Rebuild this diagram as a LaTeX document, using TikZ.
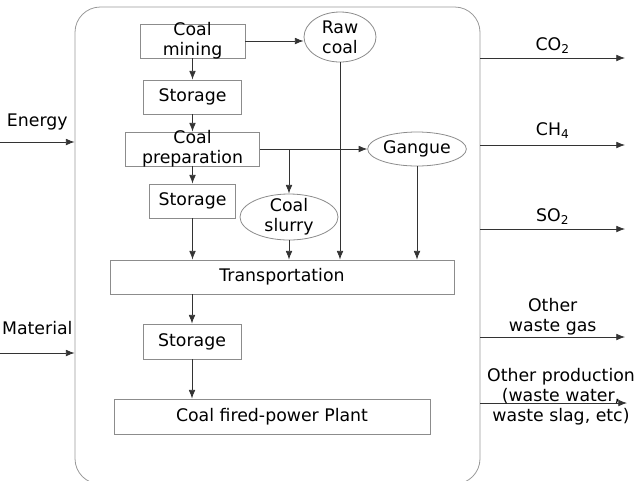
\documentclass[tikz,border=0pt]{standalone}
\usepackage{fontspec}
\setmainfont{DejaVu Sans}
\usetikzlibrary{arrows.meta,positioning,shapes.geometric}

\begin{document}
\begin{tikzpicture}[
    x=0.75pt, y=-0.75pt,
    node distance=39pt,
    >={Latex[length=6.5pt,width=5pt]},
    font=\fontsize{13}{15}\selectfont,
    stage/.style={
		rectangle,
		draw=black!45,
		line width=0.6pt,
		align=center,
		inner sep=0pt,
		minimum height=25.5pt,
		fill=white
	},
	product/.style={
		ellipse,
		draw=black!45,
		line width=0.6pt,
		align=center,
		inner sep=0pt,
		fill=white
	},
	frame/.style={
		rectangle,
		rounded corners=19pt,
		draw=black!40,
		line width=0.6pt,
		inner sep=0pt,
		minimum width=303.75pt,
		minimum height=357.75pt
	},
	flow/.style={
		->,
		draw=black!80,
		line width=0.6pt
	},
	outlbl/.style={
		above,
		inner sep=0pt,
		align=center
	}
  ]
  \useasboundingbox (0,0) rectangle (634,480);

  % the system boundary
  \node [frame] (system) at (277.5,245.5) {};

  % chain of stages
  \node [stage, minimum width=78.75pt, inner ysep=-1.3pt] (mining) at (192.5,41) {Coal\\mining};
  \node [stage, minimum width=73.5pt, below of=mining, yshift=-3pt] (storage1) {Storage};
  \node [stage, minimum width=101pt, inner ysep=-1.3pt, below of=storage1] (prep) {Coal\\preparation};
  \node [stage, minimum width=64.5pt, below of=prep] (storage2) {Storage};
  \node [stage, minimum width=258pt] (transport) at (282,277) {Transportation};
  \node [stage, minimum width=73.5pt, minimum height=26.25pt] (storage3) at (192,341.5) {Storage};
  \node [stage, minimum width=237pt, minimum height=26.25pt] (plant) at (272,416.5) {Coal fired-power Plant};

  % by-products
  \node [product, minimum width=54pt, minimum height=37.5pt] (rawcoal) at (340,37) {Raw\\coal};
  \node [product, minimum width=74pt, minimum height=25.5pt] (gangue) at (417,149) {Gangue};
  \node [product, minimum width=73.5pt, minimum height=34.5pt, inner ysep=-3pt] (slurry) at (289,217) {Coal\\slurry};

  \draw [flow] (mining) -- (storage1);
  \draw [flow] (storage1) -- (prep);
  \draw [flow] (prep) -- (storage2);
  \draw [flow] (storage2) -- (storage2 |- transport.north);
  \draw [flow] (mining.east) -- (rawcoal.west |- mining.east);
  \draw [flow] (prep) -- (gangue);
  \draw [flow] (slurry |- prep.east) -- (slurry);
  \draw [flow] (slurry) -- (slurry |- transport.north);
  \draw [flow] (rawcoal) -- (rawcoal |- transport.north);
  \draw [flow] (gangue) -- (gangue |- transport.north);
  \draw [flow] (storage3 |- transport.south) -- (storage3);
  \draw [flow] (storage3) -- (storage3 |- plant.north);

  % inputs
  \coordinate (energy) at (0,142);
  \coordinate (material) at (0,353);
  \draw [flow] (energy) -- node [above=5pt] {Energy} (energy -| system.west);
  \draw [flow] (material) -- node [above=10pt] {Material} (material -| system.west);

  % outputs
  \coordinate (co2) at (625,58);
  \coordinate (ch4) at (625,145);
  \coordinate (so2) at (625,229);
  \coordinate (gas) at (625,337);
  \coordinate (waste) at (627,403);
  \draw [flow] (co2 -| system.east) -- node [outlbl, yshift=3pt] {CO\textsubscript{2}} (co2);
  \draw [flow] (ch4 -| system.east) -- node [outlbl, yshift=4.5pt] {CH\textsubscript{4}} (ch4);
  \draw [flow] (so2 -| system.east) -- node [outlbl, yshift=3pt] {SO\textsubscript{2}} (so2);
  \draw [flow] (gas -| system.east) -- node [outlbl, yshift=1.5pt] {Other\\waste gas} (gas);
  \draw [flow] (waste -| system.east) -- (waste);
  \node [align=center, inner sep=0pt] (wastelbl) at (561,397) {Other production\\(waste water,\\waste slag, etc)};

\end{tikzpicture}
\end{document}
